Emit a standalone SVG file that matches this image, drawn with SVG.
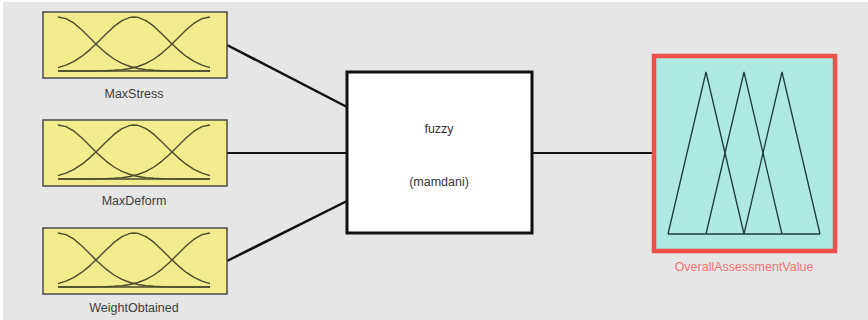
<svg xmlns="http://www.w3.org/2000/svg" width="868" height="320" viewBox="0 0 868 320">
  <style>
    .inbox { fill: #f2ec8e; stroke: #4a4a4a; stroke-width: 1.5; }
    .mf { fill: none; stroke: #4a4a2c; stroke-width: 1.4; stroke-linejoin: round; }
    .lbl { font-family: "Liberation Sans", Arial, sans-serif; font-size: 12.5px; fill: #3c3c3c; text-anchor: middle; }
    .wire { stroke: #111; stroke-width: 2.5; fill: none; }
    .wire.flat { stroke-width: 2; }
    .core { fill: #ffffff; stroke: #111; stroke-width: 3; }
    .coretxt { font-family: "Liberation Sans", Arial, sans-serif; font-size: 12.5px; fill: #333; text-anchor: middle; }
    .outbox { fill: #ade8e3; stroke: #ee5049; stroke-width: 4.5; }
    .tri { fill: none; stroke: #1c3a3a; stroke-width: 1.3; stroke-linejoin: miter; }
    .outlbl { font-family: "Liberation Sans", Arial, sans-serif; font-size: 12.5px; fill: #f07474; text-anchor: middle; }
  </style>
  <defs>
    <!-- three gaussian membership functions drawn inside a 184x66 input box -->
    <g id="gauss3">
      <rect class="inbox" x="0" y="0" width="184" height="66"/>
      <path class="mf" d="M15,5 L23,6.6 L31,11.2 L39,18 L47,25.9 L55,33.9 L63,41.1 L71,47 L79,51.4 L87,54.5 L95,56.5 L103,57.7 L111,58.3 L119,58.7 L127,58.9 L135,59 L167,59"/>
      <path class="mf" d="M167,5 L159,6.6 L151,11.2 L143,18 L135,25.9 L127,33.9 L119,41.1 L111,47 L103,51.4 L95,54.5 L87,56.5 L79,57.7 L71,58.3 L63,58.7 L55,58.9 L47,59 L15,59"/>
      <path class="mf" d="M15,55.6 L23,53.1 L31,49.4 L39,44.2 L47,37.6 L55,30 L63,21.9 L71,14.4 L79,8.6 L87,5.4 L91,5 L95,5.4 L103,8.6 L111,14.4 L119,21.9 L127,30 L135,37.6 L143,44.2 L151,49.4 L159,53.1 L167,55.6"/>
      <path class="mf" d="M15,59 L167,59"/>
    </g>
  </defs>

  <rect x="0" y="0" width="868" height="320" fill="#ffffff"/>
  <rect x="3" y="2" width="865" height="318" fill="#e6e6e6"/>

  <g id="connectors">
    <path class="wire" d="M227,45 L347,107"/>
    <path class="wire flat" d="M227,153 L347,153"/>
    <path class="wire" d="M227,261 L347,201"/>
    <path class="wire flat" d="M532,153 L652,153"/>
  </g>

  <g id="MaxStress">
    <use href="#gauss3" transform="translate(43,12)"/>
    <text class="lbl" x="134" y="98">MaxStress</text>
  </g>

  <g id="MaxDeform">
    <use href="#gauss3" transform="translate(43,120)"/>
    <text class="lbl" x="134" y="205">MaxDeform</text>
  </g>

  <g id="WeightObtained">
    <use href="#gauss3" transform="translate(43,228)"/>
    <text class="lbl" x="134" y="312">WeightObtained</text>
  </g>

  <g id="fuzzy">
    <rect class="core" x="347" y="72" width="185" height="161"/>
    <text class="coretxt" x="439" y="133">fuzzy</text>
    <text class="coretxt" x="439" y="186">(mamdani)</text>
  </g>

  <g id="OverallAssessmentValue">
    <rect class="outbox" x="654" y="56" width="181" height="195"/>
    <path class="tri" d="M668,234 L706,72 L744,234"/>
    <path class="tri" d="M706,234 L744,72 L782,234"/>
    <path class="tri" d="M744,234 L782,72 L820,234"/>
    <path class="tri" d="M668,234 L820,234"/>
    <text class="outlbl" x="744" y="271">OverallAssessmentValue</text>
  </g>
</svg>
